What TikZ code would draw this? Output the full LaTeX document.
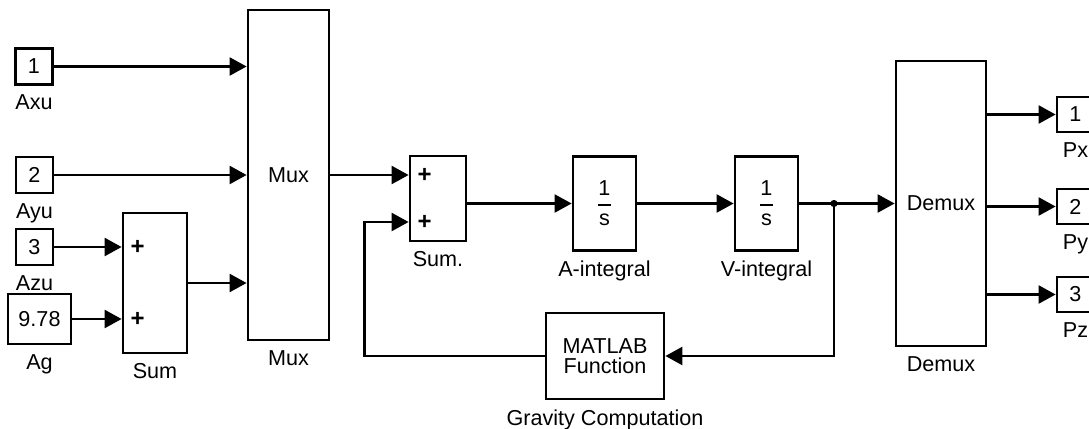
\documentclass[tikz,border=0pt]{standalone}
\usepackage{amsmath}
\usepackage{fontspec}
\setmainfont{Liberation Sans}
\usetikzlibrary{arrows.meta,calc}

\begin{document}
\begin{tikzpicture}[x=0.5pt, y=-0.5pt,
  every node/.style={font=\fontsize{10.8}{11.5}\selectfont},
  every label/.style={inner sep=1pt},
  label distance=3.3pt,
  blk/.style={rectangle, draw, line width=1.4pt, inner sep=1pt, align=center},
  port/.style={blk, minimum width=18.5pt, minimum height=18pt},
  sign/.style={anchor=west, xshift=1pt, font=\fontsize{12}{12}\selectfont\bfseries},
  arr/.style={-{Triangle[length=8.5pt,width=9pt]}, line width=1.2pt}
]
\useasboundingbox (0,0) rectangle (1089,429);
% inputs
\node[port, label=below:Axu] (in1) at (34,66.5) {1};
\node[port, label=below:Ayu] (in2) at (34.5,175) {2};
\node[port, label=below:Azu] (in3) at (34.5,247) {3};
\node[blk, minimum width=31.5pt, minimum height=25pt, label=below:Ag] (ag) at (39.5,319) {9.78};
\node[blk, minimum width=32pt, minimum height=70pt, label=below:Sum] (sum) at (155,283) {};
\node[blk, minimum width=40.5pt, minimum height=165pt, label=below:Mux] (mux) at (288.5,175) {Mux};
% integrator chain
\node[blk, minimum width=28pt, minimum height=42.5pt, label=below:Sum.] (sum2) at (438,198.5) {};
\node[blk, minimum width=31.5pt, minimum height=47pt, label=below:A-integral] (aint) at (604.5,203.5)
  {$\genfrac{}{}{1.2pt}{0}{\mbox{1}}{\mbox{s}}$};
\node[blk, minimum width=31.5pt, minimum height=47pt, label=below:V-integral] (vint) at (766.5,203.5)
  {$\genfrac{}{}{1.2pt}{0}{\mbox{1}}{\mbox{s}}$};
\node[blk, minimum width=59pt, minimum height=43pt, label=below:Gravity Computation,
  font=\fontsize{10.8}{10}\selectfont] (gravity) at (605,356) {MATLAB\\Function};
\node[blk, minimum width=45pt, minimum height=142.5pt, label=below:Demux] (demux) at (941,203.5) {Demux};
% outputs
\node[port, minimum height=17.5pt, label=below:Px] (out1) at (1075.5,114.5) {1};
\node[port, minimum height=17.5pt, label=below:Py] (out2) at (1075.5,206.5) {2};
\node[port, minimum height=17.5pt, label=below:Pz] (out3) at (1075.5,294.5) {3};

\coordinate (fbin) at ($(sum2.west)+(0,23.5)$);
\coordinate (tap) at (834,203.5);
% signs
\node[sign] (s1a) at (in3.east -| sum.west) {+};
\node[sign] (s1b) at (ag.east -| sum.west) {+};
\node[sign] (s2a) at (mux.east -| sum2.west) {+};
\node[sign] (s2b) at (fbin) {+};

\draw[arr] (in1.east) -- (in1.east -| mux.west);
\draw[arr] (in2.east) -- (in2.east -| mux.west);
\draw[arr] (in3.east) -- (in3.east -| sum.west);
\draw[arr] (ag.east) -- (ag.east -| sum.west);
\draw[arr] (sum.east) -- (sum.east -| mux.west);
\draw[arr] (mux.east) -- (mux.east -| sum2.west);
\draw[arr] (sum2.east |- aint.west) -- (aint.west);
\draw[arr] (aint.east) -- (vint.west);
\draw[arr] (vint.east) -- (demux.west);
\fill (tap) circle (1.8pt);
\draw[arr] (tap) |- (gravity.east);
\draw[arr] (gravity.west) -- ++(-180,0) |- (fbin);
\draw[arr] (out1.west -| demux.east) -- (out1.west);
\draw[arr] (out2.west -| demux.east) -- (out2.west);
\draw[arr] (out3.west -| demux.east) -- (out3.west);
\end{tikzpicture}
\end{document}
